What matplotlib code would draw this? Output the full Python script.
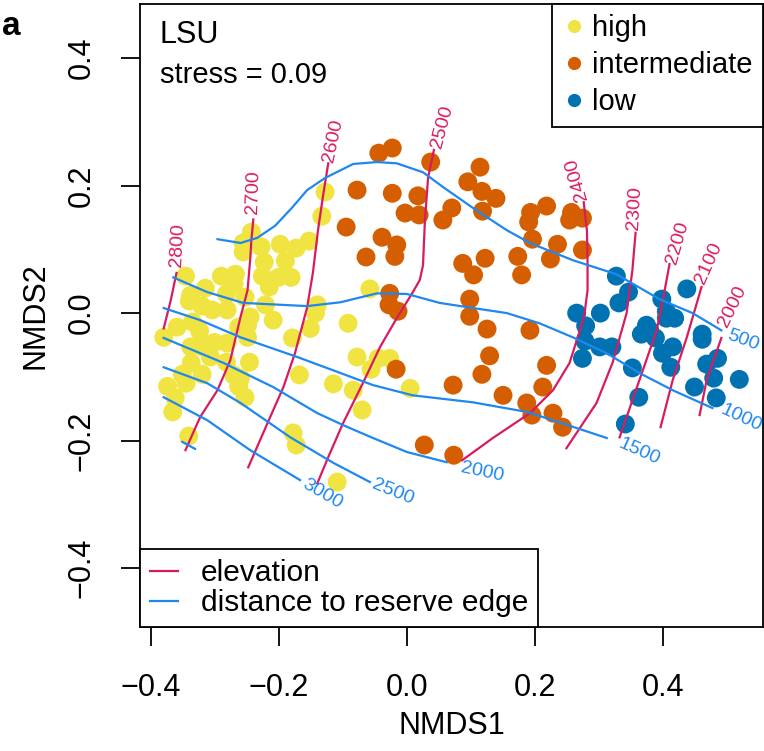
import matplotlib
matplotlib.use("Agg")
import matplotlib.pyplot as plt
from matplotlib.lines import Line2D
from matplotlib.ticker import FuncFormatter

plt.rcParams['font.family'] = ['Liberation Sans', 'DejaVu Sans']

# NMDS site scores by group
high_x = [-0.128, -0.133, -0.243, -0.256, -0.256, -0.228, -0.198, -0.173, -0.153, -0.223,
          -0.190, -0.226, -0.201, -0.181, -0.215, -0.290, -0.268, -0.270, -0.282, -0.253,
          -0.221, -0.140, -0.346, -0.315, -0.338, -0.340, -0.320, -0.304, -0.281, -0.143,
          -0.245, -0.263, -0.249, -0.359, -0.335, -0.324, -0.209, -0.151, -0.179, -0.249,
          -0.380, -0.338, -0.320, -0.301, -0.307, -0.281, -0.282, -0.246, -0.271, -0.260,
          -0.263, -0.253, -0.337, -0.351, -0.345, -0.320, -0.374, -0.362, -0.366, -0.341,
          -0.168, -0.115, -0.084, -0.070, -0.178, -0.173, -0.109, -0.092, -0.058, -0.078,
          -0.045, -0.027, -0.056, 0.005]
high_y = [0.190, 0.152, 0.127, 0.110, 0.096, 0.104, 0.108, 0.102, 0.113, 0.080,
          0.082, 0.058, 0.056, 0.056, 0.041, 0.058, 0.061, 0.046, 0.030, 0.025,
          0.013, 0.013, 0.058, 0.039, 0.028, 0.019, 0.011, 0.005, 0.005, 0.000,
          -0.006, -0.022, -0.019, -0.022, -0.014, -0.028, -0.011, -0.024, -0.039, -0.038,
          -0.038, -0.053, -0.053, -0.046, -0.069, -0.047, -0.077, -0.077, -0.097, -0.102,
          -0.115, -0.132, -0.078, -0.096, -0.110, -0.096, -0.115, -0.133, -0.155, -0.193,
          -0.097, -0.111, -0.121, -0.152, -0.188, -0.207, -0.265, -0.016, 0.038, -0.069,
          -0.071, -0.071, -0.088, -0.118]

mid_x = [-0.044, -0.023, 0.037, -0.078, -0.023, 0.017, -0.003, 0.019, -0.095, -0.039,
         -0.016, -0.019, -0.064, 0.114, 0.095, 0.117, 0.139, 0.070, 0.056, 0.118,
         0.193, 0.190, 0.173, 0.179, 0.122, 0.087, 0.104, -0.027, -0.028, -0.014,
         0.098, 0.098, 0.218, 0.257, 0.254, 0.274, 0.196, 0.235, 0.224, 0.274,
         0.125, 0.192, 0.129, 0.218, 0.117, 0.072, 0.212, 0.150, 0.187, 0.195,
         0.228, 0.243, 0.073, 0.027, -0.017]
mid_y = [0.251, 0.259, 0.237, 0.193, 0.188, 0.184, 0.157, 0.154, 0.135, 0.119,
         0.107, 0.089, 0.088, 0.229, 0.206, 0.191, 0.180, 0.165, 0.146, 0.160,
         0.158, 0.143, 0.089, 0.060, 0.086, 0.078, 0.060, 0.031, 0.013, 0.003,
         0.022, -0.005, 0.168, 0.158, 0.146, 0.149, 0.116, 0.108, 0.085, 0.099,
         -0.025, -0.027, -0.067, -0.082, -0.096, -0.113, -0.116, -0.129, -0.141, -0.160,
         -0.157, -0.179, -0.223, -0.207, -0.088]

low_x = [0.327, 0.346, 0.331, 0.398, 0.437, 0.265, 0.302, 0.279, 0.278, 0.301,
         0.320, 0.274, 0.374, 0.366, 0.388, 0.405, 0.418, 0.405, 0.415, 0.399,
         0.412, 0.352, 0.461, 0.461, 0.485, 0.468, 0.479, 0.519, 0.449, 0.483,
         0.362, 0.341, 0.379]
low_y = [0.058, 0.033, 0.016, 0.022, 0.038, 0.000, 0.000, -0.020, -0.044, -0.053,
         -0.053, -0.071, -0.019, -0.033, -0.039, -0.008, -0.008, 0.003, -0.053, -0.063,
         -0.085, -0.086, -0.033, -0.041, -0.071, -0.080, -0.102, -0.104, -0.116, -0.133,
         -0.132, -0.174, -0.027]

# fitted surface contours (ordisurf)
elev_lines = {
    2800: ([-0.360, -0.369, -0.380], [0.063, 0.020, -0.024]),
    2700: ([-0.240, -0.243, -0.245, -0.249, -0.260, -0.276, -0.296, -0.323, -0.346],
           [0.147, 0.115, 0.083, 0.036, -0.006, -0.074, -0.121, -0.163, -0.215]),
    2600: ([-0.123, -0.131, -0.139, -0.147, -0.156, -0.175, -0.193, -0.218, -0.248],
           [0.235, 0.185, 0.130, 0.063, 0.009, -0.063, -0.116, -0.173, -0.242]),
    2500: ([0.042, 0.033, 0.028, 0.025, 0.020, 0.008, -0.016, -0.042, -0.069, -0.100, -0.123, -0.140],
           [0.256, 0.213, 0.146, 0.075, 0.052, 0.031, -0.008, -0.053, -0.110, -0.173, -0.226, -0.267]),
    2400: ([0.276, 0.281, 0.282, 0.282, 0.277, 0.270, 0.254, 0.228, 0.192, 0.134, 0.086],
           [0.174, 0.130, 0.078, 0.036, -0.003, -0.027, -0.078, -0.121, -0.157, -0.196, -0.231]),
    2300: ([0.357, 0.352, 0.343, 0.321, 0.296, 0.249],
           [0.126, 0.067, 0.000, -0.078, -0.141, -0.212]),
    2200: ([0.410, 0.401, 0.390, 0.363, 0.332],
           [0.077, 0.028, -0.027, -0.105, -0.195]),
    2100: ([0.460, 0.437, 0.415, 0.396],
           [0.041, -0.038, -0.105, -0.179]),
    2000: ([0.491, 0.468, 0.457],
           [-0.039, -0.105, -0.160]),
}

dist_lines = {
    500: ([-0.296, -0.260, -0.234, -0.206, -0.179, -0.156, -0.128, -0.084, -0.047, -0.016,
           0.025, 0.056, 0.103, 0.156, 0.192, 0.259, 0.327, 0.394, 0.446, 0.491],
          [0.116, 0.110, 0.118, 0.137, 0.166, 0.193, 0.212, 0.234, 0.237, 0.235,
           0.221, 0.198, 0.165, 0.130, 0.110, 0.083, 0.061, 0.022, 0.000, -0.027]),
    1000: ([-0.365, -0.312, -0.256, -0.156, -0.104, -0.047, 0.000, 0.051, 0.103, 0.156,
            0.207, 0.259, 0.312, 0.363, 0.415, 0.477],
           [0.056, 0.033, 0.016, 0.011, 0.017, 0.031, 0.030, 0.016, 0.008, 0.000,
            -0.016, -0.038, -0.063, -0.094, -0.121, -0.149]),
    1500: ([-0.380, -0.323, -0.260, -0.171, -0.104, -0.053, 0.009, 0.103, 0.187, 0.243, 0.312],
           [0.008, -0.011, -0.038, -0.069, -0.094, -0.113, -0.129, -0.140, -0.155, -0.173, -0.196]),
    2000: ([-0.380, -0.287, -0.209, -0.140, -0.097, -0.053, 0.000, 0.062],
           [-0.039, -0.078, -0.116, -0.157, -0.177, -0.196, -0.218, -0.234]),
    2500: ([-0.380, -0.312, -0.260, -0.182, -0.115, -0.058],
           [-0.085, -0.110, -0.141, -0.195, -0.235, -0.265]),
    3000: ([-0.380, -0.312, -0.245, -0.167],
           [-0.132, -0.168, -0.215, -0.262]),
    3500: ([-0.351, -0.331], [-0.202, -0.213]),
}

# contour label placement: (level, x, y, rotation)
elev_labels = [(2800, -0.358, 0.107, 87), (2700, -0.240, 0.190, 88), (2600, -0.116, 0.270, 78),
               (2500, 0.055, 0.292, 75), (2400, 0.265, 0.210, 106), (2300, 0.356, 0.165, 87),
               (2200, 0.422, 0.111, 74), (2100, 0.472, 0.078, 66), (2000, 0.509, 0.011, 64)]
dist_labels = [(500, 0.525, -0.042, -20), (1000, 0.522, -0.165, -25), (1500, 0.362, -0.218, -24),
               (2000, 0.117, -0.249, -12), (2500, -0.022, -0.281, -22), (3000, -0.133, -0.284, -30)]

col_high = '#F0E442'
col_mid = '#D55E00'
col_low = '#0072B2'
col_elev = '#D81B60'
col_dist = '#1E88F0'

fig = plt.figure(figsize=(7.64, 7.51), dpi=100)
ax = fig.add_axes([140/764, 1 - 627/751, 623/764, 623/751])

ax.scatter(high_x, high_y, s=185, color=col_high, edgecolors='none', zorder=2)
ax.scatter(mid_x, mid_y, s=185, color=col_mid, edgecolors='none', zorder=2)
ax.scatter(low_x, low_y, s=185, color=col_low, edgecolors='none', zorder=2)

for lev, (xs, ys) in elev_lines.items():
    ax.plot(xs, ys, color=col_elev, lw=1.6, zorder=3)
for lev, (xs, ys) in dist_lines.items():
    ax.plot(xs, ys, color=col_dist, lw=1.6, zorder=3)

for lev, x, y, r in elev_labels:
    ax.text(x, y, str(lev), color=col_elev, fontsize=14, rotation=r,
            ha='center', va='center', rotation_mode='anchor', zorder=4)
for lev, x, y, r in dist_labels:
    ax.text(x, y, str(lev), color=col_dist, fontsize=14, rotation=r,
            ha='center', va='center', rotation_mode='anchor', zorder=4)

minus_fmt = FuncFormatter(lambda v, p: ('%.1f' % v).replace('-', '\u2212'))
ax.set_xlim(-0.417, 0.556)
ax.set_ylim(-0.4925, 0.485)
ax.set_xticks([-0.4, -0.2, 0.0, 0.2, 0.4])
ax.set_yticks([-0.4, -0.2, 0.0, 0.2, 0.4])
ax.xaxis.set_major_formatter(minus_fmt)
ax.yaxis.set_major_formatter(minus_fmt)
ax.tick_params(length=14, width=1.3, labelsize=22)
ax.tick_params(axis='x', pad=19)
ax.tick_params(axis='y', pad=17)
plt.setp(ax.get_yticklabels(), rotation=90, va='center')
for s in ax.spines.values():
    s.set_linewidth(1.3)

ax.set_xlabel('NMDS1', fontsize=22, labelpad=6)
ax.set_ylabel('NMDS2', fontsize=22, labelpad=12)

ax.text(0.032, 0.937, 'LSU', transform=ax.transAxes, fontsize=22, va='baseline')
ax.text(0.032, 0.873, 'stress = 0.09', transform=ax.transAxes, fontsize=21, va='baseline')

grp_handles = [Line2D([], [], ls='none', marker='o', ms=9.5, mfc=c, mec='none')
               for c in (col_high, col_mid, col_low)]
leg1 = ax.legend(grp_handles, ['high', 'intermediate', 'low'], loc='upper right',
                 fontsize=21, borderaxespad=0, borderpad=0.36, handlelength=0.8,
                 handletextpad=0.2, labelspacing=0.3, fancybox=False, framealpha=1,
                 edgecolor='black')
leg1.get_frame().set_linewidth(1.3)
ax.add_artist(leg1)

line_handles = [Line2D([], [], color=col_elev, lw=1.6), Line2D([], [], color=col_dist, lw=1.6)]
leg2 = ax.legend(line_handles, ['elevation', 'distance to reserve edge'], loc='lower left',
                 fontsize=21.5, borderaxespad=0, borderpad=0.33, handlelength=0.95,
                 handletextpad=0.75, labelspacing=0.07, fancybox=False, framealpha=1,
                 edgecolor='black')
leg2.get_frame().set_linewidth(1.3)

fig.text(0.003, 0.985, 'a', fontsize=24, fontweight='bold', va='top')

fig.savefig('out.png', dpi=100)
